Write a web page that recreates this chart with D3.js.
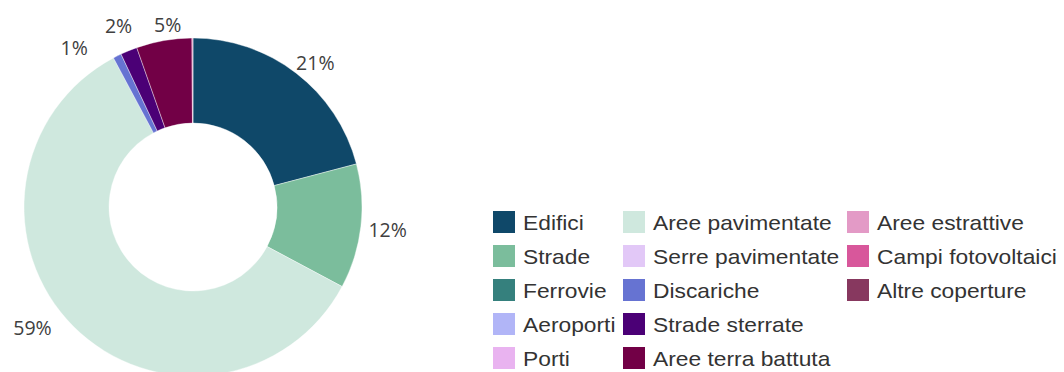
<!DOCTYPE html>
<html><head><meta charset="utf-8">
<script src="https://cdn.jsdelivr.net/npm/d3@7"></script>
<style>body{margin:0;background:#fff;}svg{display:block;}</style>
</head><body>
<svg id="c" width="1064" height="372"></svg>
<script>
const categories = ["Edifici","Strade","Ferrovie","Aeroporti","Porti","Aree pavimentate","Serre pavimentate","Discariche","Strade sterrate","Aree terra battuta","Aree estrattive","Campi fotovoltaici","Altre coperture"];
const values = [20.9, 11.9, 0, 0, 0, 59.4, 0, 0.8, 1.6, 5.3, 0.1, 0, 0];
const colors = ["#0f4869","#7bbd9c","#35807d","#b1b5f7","#e9b3f0","#cfe8de","#e2c8f7","#6673d2","#4b0076","#720046","#e39ac6","#d8579b","#87385f"];
const labelTexts = ["21%","12%","","","","59%","","1%","2%","5%","","",""];
const labelNudge = [2.7, 0, 0, 0, 0, 8, 0, -10, 0, 2, 0, 0, 0];
const labelRadiusNudge = [-5, 2, 0, 0, 0, 7, 0, 5, 2, -10, 0, 0, 0];

const svg = d3.select("#c");
const cx = 193, cy = 207, R = 169, r0 = 84;
const g = svg.append("g").attr("transform", `translate(${cx},${cy})`);
const pie = d3.pie().sort(null).value(d => d.v);
const data = categories.map((c, i) => ({c, v: values[i], col: colors[i], lab: labelTexts[i], nudge: labelNudge[i], rn: labelRadiusNudge[i]}));
const arcs = pie(data);
const arc = d3.arc().innerRadius(r0).outerRadius(R);
g.selectAll("path").data(arcs.filter(a => a.data.v > 0)).join("path")
  .attr("d", arc).attr("fill", d => d.data.col)
  .attr("stroke", "#fff").attr("stroke-width", 0.4);

const labR = 194;
const ang = d => (d.startAngle + d.endAngle) / 2 + d.data.nudge * Math.PI / 180;
g.selectAll("text.lab").data(arcs.filter(a => a.data.lab)).join("text")
  .attr("class", "lab")
  .attr("x", d => Math.sin(ang(d)) * (labR + d.data.rn))
  .attr("y", d => -Math.cos(ang(d)) * (labR + d.data.rn))
  .attr("text-anchor", "middle").attr("dominant-baseline", "central")
  .attr("font-family", "'Open Sans', 'Liberation Sans', sans-serif").attr("font-size", 19.5)
  .attr("fill", "#404040").text(d => d.data.lab);

// legend
const colX = [493, 623, 847];
const rowY0 = 211, rowH = 34, perCol = 5;
const leg = svg.append("g");
const items = leg.selectAll("g").data(data).join("g")
  .attr("transform", (d, i) => `translate(${colX[Math.floor(i / perCol)]},${rowY0 + (i % perCol) * rowH})`);
items.append("rect").attr("width", 22).attr("height", 22).attr("fill", d => d.col);
items.append("text")
  .attr("transform", "translate(30,18.5) scale(1.14,1)")
  .attr("font-family", "'Liberation Sans', Arial, sans-serif").attr("font-size", 20)
  .attr("fill", "#333").text(d => d.c);
</script>
</body></html>
